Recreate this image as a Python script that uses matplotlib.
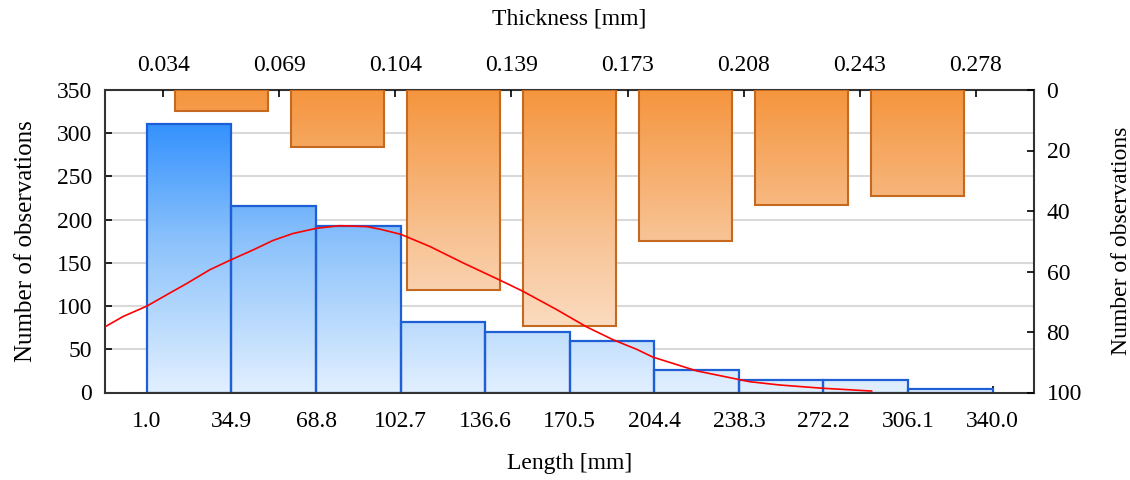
#!/usr/bin/env python3
"""Histogram of fibre length (bottom/left) with thickness histogram hanging from the top/right."""

import numpy as np
import matplotlib

matplotlib.use("Agg")
import matplotlib.pyplot as plt
from matplotlib.colors import LinearSegmentedColormap

# bottom axis: length bins and counts (left axis)
LENGTH_EDGES = [1.0, 34.9, 68.8, 102.7, 136.6, 170.5, 204.4, 238.3, 272.2, 306.1, 340.0]
LENGTH_COUNTS = [311, 216, 193, 81, 70, 60, 26, 14, 14, 4]

# top axis: thickness bin edges (labels) and counts (right axis, inverted)
THICKNESS_LABELS = ["0.034", "0.069", "0.104", "0.139", "0.173", "0.208", "0.243", "0.278"]
THICKNESS_COUNTS = [7, 19, 66, 78, 50, 38, 35]

# fitted curve (length, count)
FIT_X = [-15.8, -8.5, 1.0, 8.9, 16.9, 26.2, 34.3, 43.6, 51.6, 59.6, 69.0, 78.3, 89.0, 94.4,
         102.8, 114.4, 127.7, 142.5, 151.8, 165.2, 177.2, 187.9, 197.3, 203.8, 221.4, 242.6,
         254.6, 271.9, 291.5]
FIT_Y = [76, 88, 100, 113, 126, 142, 153, 165, 176, 184, 190, 193, 192, 189,
         183, 169, 150, 130, 117, 96, 76, 61, 50, 41, 25, 12.5, 8.7, 4.9, 1.7]

FONT = "Liberation Serif"
FS = 17

BLUE_CMAP = LinearSegmentedColormap.from_list("blue", ["#e2f0ff", "#8cc2fb", "#1b84ff"])
ORANGE_CMAP = LinearSegmentedColormap.from_list("orange", ["#fdede0", "#f8c496", "#f5953e"])


def gradient_bars(ax, bars, cmap):
    grad = np.linspace(0, 1, 256).reshape(-1, 1)
    for patch in bars:
        im = ax.imshow(grad, extent=[0, 1, 0, 1], transform=ax.transAxes, origin="lower",
                       aspect="auto", cmap=cmap, zorder=1.5, interpolation="bilinear")
        im.set_clip_path(patch)


def main() -> int:
    plt.rcParams["font.family"] = [FONT, "DejaVu Serif"]
    plt.rcParams["font.size"] = FS

    fig = plt.figure(figsize=(11.3, 4.8), dpi=100)
    rect = [105 / 1130, 1 - 392.5 / 480, (1034 - 105) / 1130, (392.5 - 90) / 480]
    ax = fig.add_axes(rect)
    ax2 = fig.add_axes(rect, frameon=False)
    ax2.patch.set_visible(False)

    # length histogram
    edges = np.array(LENGTH_EDGES)
    widths = np.diff(edges)
    bars = ax.bar(edges[:-1], LENGTH_COUNTS, width=widths, align="edge",
                  facecolor="none", edgecolor="#1f5fd6", linewidth=1.6, zorder=2)
    gradient_bars(ax, bars, BLUE_CMAP)

    ax.set_xlim(-15.8, 356.6)
    ax.set_ylim(0, 350)
    ax.set_xticks(LENGTH_EDGES)
    ax.set_xticklabels([f"{v:.1f}" for v in LENGTH_EDGES])
    ax.set_yticks(range(0, 351, 50))
    ax.yaxis.grid(True, color="#d9d9d9", linewidth=1.5)
    ax.set_axisbelow(True)
    ax.tick_params(direction="in", length=5, width=1.2, labelsize=FS)
    ax.tick_params(axis="x", pad=13)
    ax.tick_params(axis="y", pad=9.5)
    ax.set_xlabel("Length [mm]", fontsize=FS, va="center", ha="center")
    ax.set_ylabel("Number of observations", fontsize=FS + 1, va="center", ha="center")
    ax.xaxis.set_label_coords(0.5, (392.5 - 463) / 302.5)
    ax.yaxis.set_label_coords((26 - 105) / 929, 0.5)
    for s in ax.spines.values():
        s.set_color("#333333")
        s.set_linewidth(1.5)

    # thickness histogram, hanging from the top
    pos = np.arange(len(THICKNESS_COUNTS)) + 0.5
    obars = ax2.bar(pos, THICKNESS_COUNTS, width=0.8, facecolor="none",
                    edgecolor="#c4691f", linewidth=1.5, zorder=2)
    gradient_bars(ax2, obars, ORANGE_CMAP)

    ax2.set_xlim(-0.5, 7.5)
    ax2.set_ylim(100, 0)
    ax2.xaxis.tick_top()
    ax2.yaxis.tick_right()
    ax2.set_xticks(range(len(THICKNESS_LABELS)))
    ax2.set_xticklabels(THICKNESS_LABELS)
    ax2.set_yticks(range(0, 101, 20))
    ax2.tick_params(direction="in", length=5, width=1.2, labelsize=FS)
    ax2.tick_params(axis="x", pad=10)
    ax2.tick_params(axis="y", pad=9)
    ax2.set_xlabel("Thickness [mm]", fontsize=FS, va="center", ha="center")
    ax2.set_ylabel("Number of observations", fontsize=FS, va="center", ha="center")
    ax2.xaxis.set_label_position("top")
    ax2.yaxis.set_label_position("right")
    ax2.xaxis.set_label_coords(0.5, (392.5 - 24) / 302.5)
    ax2.yaxis.set_label_coords((1111 - 105) / 929, 0.5)

    # fitted curve on top of everything
    ax2.plot(FIT_X, FIT_Y, color="#ff0000", linewidth=1.2, transform=ax.transData,
             zorder=5, clip_on=True)

    fig.savefig("out.png", dpi=100)
    return 0


if __name__ == "__main__":
    raise SystemExit(main())
